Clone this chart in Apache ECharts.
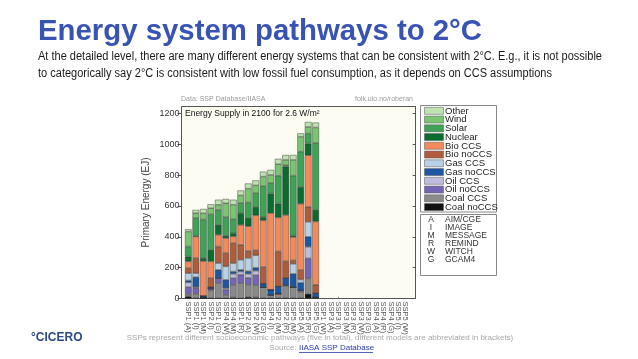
<!DOCTYPE html>
<html><head><meta charset="utf-8">
<script src="https://cdn.jsdelivr.net/npm/echarts@6/dist/echarts.min.js"></script>
<style>html,body{margin:0;padding:0;background:#fff}#c{width:638px;height:359px}</style>
</head><body><div id="c"></div>
<script>
// ---- data ----
const categories = ['SSP1 (A)','SSP1 (I)','SSP1 (M)','SSP2 (I)','SSP1 (G)','SSP4 (W)','SSP4 (M)','SSP1 (R)','SSP2 (A)','SSP2 (W)','SSP2 (G)','SSP4 (I)','SSP2 (M)','SSP2 (R)','SSP5 (M)','SSP5 (A)','SSP5 (R)','SSP5 (G)',
  'SSP1 (W)','SSP3 (A)','SSP3 (I)','SSP3 (M)','SSP3 (R)','SSP3 (W)','SSP3 (G)','SSP4 (A)','SSP4 (R)','SSP4 (G)','SSP5 (I)','SSP5 (W)'];
const coalNoCCS = [14, 3, 5, 3, 3, 3, 7, 3, 10, 7, 3, 3, 3, 3, 3, 3, 30, 3];
const coalCCS   = [17, 28, 0, 49, 97, 21, 82, 97, 80, 80, 71, 20, 28, 80, 71, 40, 100, 5];
const oilNoCCS  = [43, 36, 0, 12, 32, 33, 43, 54, 44, 65, 0, 0, 0, 5, 0, 10, 130, 0];
const oilCCS    = [30, 7, 0, 0, 0, 10, 28, 21, 26, 28, 0, 0, 0, 0, 0, 0, 75, 0];
const gasNoCCS  = [13, 65, 12, 10, 54, 54, 15, 11, 17, 20, 22, 34, 47, 45, 86, 50, 65, 27];
const gasCCS    = [47, 25, 0, 0, 43, 87, 54, 65, 86, 80, 0, 0, 0, 0, 65, 20, 97, 0];
const bioNoCCS  = [33, 98, 0, 58, 108, 86, 130, 97, 43, 32, 108, 0, 227, 108, 22, 60, 97, 54];
const bioCCS    = [43, 140, 225, 108, 76, 97, 43, 129, 162, 227, 302, 496, 220, 300, 151, 431, 334, 410];
const nuclear   = [32, 5, 20, 75, 64, 15, 21, 76, 54, 54, 21, 127, 90, 313, 10, 108, 76, 75];
const solar     = [65, 113, 250, 230, 97, 121, 90, 65, 100, 90, 200, 67, 180, 10, 388, 230, 65, 434];
const wind      = [97, 33, 40, 40, 33, 90, 95, 50, 90, 50, 63, 54, 75, 34, 102, 97, 43, 100];
const other     = [15, 21, 28, 25, 33, 28, 32, 32, 33, 32, 32, 32, 35, 32, 32, 21, 32, 32];
const yTicks = [0, 200, 400, 600, 800, 1000, 1200];
const modelCodes = ['A','I','M','R','W','G'];
const modelNames = ['AIM/CGE','IMAGE','MESSAGE','REMIND','WITCH','GCAM4'];

// ---- styling ----
const seriesDefs = [
  ['Coal noCCS', coalNoCCS, '#121212'],
  ['Coal CCS', coalCCS, '#8a8a8a'],
  ['Oil noCCS', oilNoCCS, '#7565b5'],
  ['Oil CCS', oilCCS, '#bebddd'],
  ['Gas noCCS', gasNoCCS, '#1c56a4'],
  ['Gas CCS', gasCCS, '#b8d1e6'],
  ['Bio noCCS', bioNoCCS, '#b05b3b'],
  ['Bio CCS', bioCCS, '#f4895b'],
  ['Nuclear', nuclear, '#0c6b2e'],
  ['Solar', solar, '#3ea356'],
  ['Wind', wind, '#7bc472'],
  ['Other', other, '#bfe3b1']
];
const legendDefs = seriesDefs.slice().reverse();

const cv = document.createElement('canvas').getContext('2d');
function fit(text, font, w) { cv.font = font; return w / cv.measureText(text).width; }

const SANS = 'Liberation Sans, Arial, Helvetica, sans-serif';
const titleTxt = 'Energy system pathways to 2°C';
const sub1 = 'At the detailed level, there are many different energy systems that can be consistent with 2°C. E.g., it is not possible';
const sub2 = 'to categorically say 2°C is consistent with low fossil fuel consumption, as it depends on CCS assumptions';
const titleFont = 'bold 30px ' + SANS;
const subFont = '12px ' + SANS;
const subScale = fit(sub1, subFont, 564);

const graphics = [
  {type:'rect', z:0, shape:{x:181.5, y:106.5, width:234, height:192}, style:{fill:'#fcfcf2', stroke:'#555', lineWidth:1}},
  {type:'text', z:10, x:38, y:17, scaleX: fit(titleTxt, titleFont, 444), style:{text:titleTxt, font:titleFont, fill:'#3953b5', verticalAlign:'top'}},
  {type:'text', z:10, x:38, y:51, scaleX: subScale, style:{text:sub1, font:subFont, fill:'#1a1a1a', verticalAlign:'top'}},
  {type:'text', z:10, x:38, y:68, scaleX: subScale, style:{text:sub2, font:subFont, fill:'#1a1a1a', verticalAlign:'top'}},
  {type:'text', z:10, x:181, y:99, style:{text:'Data: SSP Database/IIASA', font:'7px '+SANS, fill:'#9a9a9a', verticalAlign:'middle'}},
  {type:'text', z:10, x:413, y:99, style:{text:'folk.uio.no/roberan', font:'7px '+SANS, fill:'#9a9a9a', align:'right', verticalAlign:'middle'}},
  {type:'text', z:10, x:185, y:113.5, style:{text:'Energy Supply in 2100 for 2.6 W/m²', font:'8.5px '+SANS, fill:'#111', verticalAlign:'middle'}},
  // legend box (series colours) and model box
  {type:'rect', z:10, shape:{x:420.5, y:105.5, width:76, height:106.5}, style:{fill:'#fff', stroke:'#888', lineWidth:1}},
  {type:'rect', z:10, shape:{x:420.5, y:214.5, width:76, height:61}, style:{fill:'#fff', stroke:'#888', lineWidth:1}},
  {type:'text', z:10, x:31, y:338, style:{text:'°CICERO', font:'bold 12px '+SANS, fill:'#2d4a86', verticalAlign:'middle'}},
  {type:'text', z:10, x:320, y:338, style:{text:'SSPs represent different socioeconomic pathways (five in total), different models are abbreviated in brackets)', font:'8px '+SANS, fill:'#a8a8a8', align:'center', verticalAlign:'middle'}},
  {type:'text', z:10, x:299, y:348, style:{text:'Source: ', font:'8px '+SANS, fill:'#a8a8a8', align:'right', verticalAlign:'middle'}},
  {type:'text', z:10, x:299, y:348, style:{text:'IIASA SSP Database', font:'8px '+SANS, fill:'#2b3aa8', align:'left', verticalAlign:'middle'}},
  {type:'line', z:10, shape:{x1:299, y1:352.5, x2:373, y2:352.5}, style:{stroke:'#2b3aa8', lineWidth:0.8}}
];
legendDefs.forEach(([name, , color], i) => {
  const y = 107.3 + i * 8.75;
  graphics.push({type:'rect', z:11, shape:{x:424.5, y:y, width:19, height:7}, style:{fill:color, stroke:'#555', lineWidth:0.5}});
  graphics.push({type:'text', z:11, x:445, y:y + 3.7, style:{text:name, font:'9.5px '+SANS, fill:'#222', verticalAlign:'middle'}});
});
modelCodes.forEach((c, i) => {
  const y = 220 + i * 7.9;
  graphics.push({type:'text', z:11, x:431, y, style:{text:c, font:'8.5px '+SANS, fill:'#333', align:'center', verticalAlign:'middle'}});
  graphics.push({type:'text', z:11, x:445, y, style:{text:modelNames[i], font:'8.5px '+SANS, fill:'#333', verticalAlign:'middle'}});
});

const chart = echarts.init(document.getElementById('c'), null, {renderer:'canvas'});
chart.setOption({
  animation:false,
  backgroundColor:'#fff',
  grid:{left:184.6, top:106.5, width:224.7, height:192},
  xAxis:[
    {type:'category', data:categories, axisLine:{show:false}, axisTick:{show:false},
     axisLabel:{interval:0, rotate:-90, fontSize:7.5, color:'#555', margin:3, fontFamily:SANS}},
    {type:'category', data:categories, position:'top', axisLine:{show:false},
     axisTick:{show:true, length:2, alignWithLabel:true, lineStyle:{color:'#777', width:0.7}}, axisLabel:{show:false}}
  ],
  yAxis:[
    {type:'value', min:0, max:1244, interval:200, offset:3.1, axisLine:{show:false},
     axisTick:{show:true, length:4, lineStyle:{color:'#555'}}, splitLine:{show:false},
     axisLabel:{fontSize:9, color:'#333', margin:2, fontFamily:SANS, showMaxLabel:false,
       formatter: v => yTicks.includes(v) ? String(v) : ''},
     name:'Primary Energy (EJ)', nameLocation:'middle', nameGap:30,
     nameTextStyle:{fontSize:10, color:'#444', fontFamily:SANS}},
    {type:'value', min:0, max:1244, interval:200, position:'right', offset:6.4, axisLine:{show:false},
     axisTick:{show:true, inside:true, length:3, lineStyle:{color:'#555'}}, axisLabel:{show:false}, splitLine:{show:false}}
  ],
  graphic: graphics,
  series: seriesDefs.map(([name, data, color]) => ({
    name, type:'bar', stack:'energy', data, barWidth:6.7,
    itemStyle:{color, borderColor:'rgba(40,40,40,0.85)', borderWidth:0.5},
    emphasis:{disabled:true}
  }))
});
</script></body></html>
